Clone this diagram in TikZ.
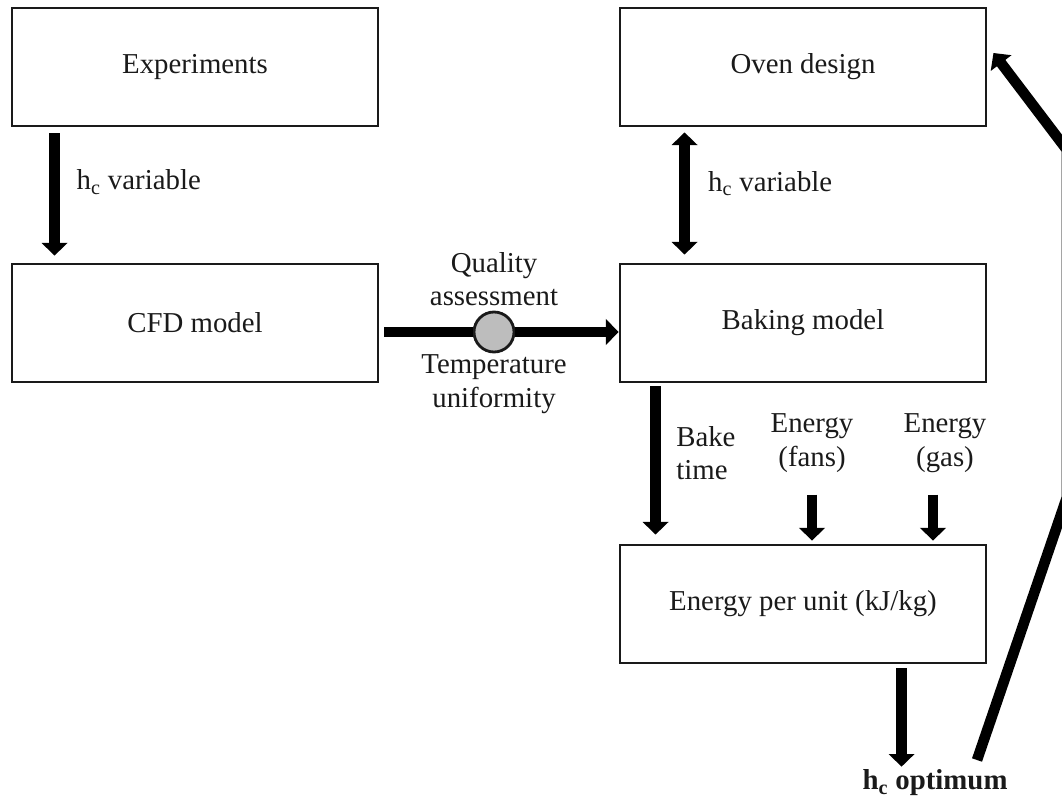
\documentclass[tikz,border=0pt]{standalone}
\usepackage{fontspec}
\setmainfont{Liberation Serif}
\usepackage{tikz}
\usetikzlibrary{arrows.meta,calc,positioning}
\definecolor{inkblack}{HTML}{1A1A1A}
\definecolor{ringgray}{HTML}{BDBDBD}

\begin{document}
\begin{tikzpicture}[x=0.025cm,y=-0.025cm,>={Triangle[length=9pt,width=18pt]},
  font=\fontsize{20.5}{24}\selectfont,
  blk/.style={draw=inkblack,line width=2pt,minimum width=9.15cm,minimum height=2.95cm,text=inkblack},
  lbl/.style={inner sep=0pt,align=center,text=inkblack},
  fat/.style={->,draw=black,line width=7.5pt},
  dot/.style={circle,draw=inkblack,line width=2pt,fill=ringgray,minimum size=1cm,inner sep=0pt}]
\useasboundingbox (0,0) rectangle (1062,800);
\node[blk] (exp) at (195,67) {Experiments};
\node[blk] (cfd) at (195,323) {CFD model};
\node[blk] (oven) at (803,67) {Oven design};
\node[blk] (bake) at (803,323) {Baking model};
\node[blk] (epu) at (803,604) {Energy per unit (kJ/kg)};
\node[dot] (qa) at (494,332) {};
\node[lbl,above=3pt of qa] (qual) {Quality\\assessment};
\node[lbl,below=1pt of qa] (temp) {Temperature\\uniformity};
\node[lbl] (fans) at (812,443) {Energy\\(fans)};
\node[lbl] (gas) at (945,443) {Energy\\(gas)};
\node[lbl,font=\fontsize{20.5}{24}\selectfont\bfseries] (opt) at (935,783) {h\textsubscript{c} optimum};
\coordinate (fansin) at ($(fans.south)+(0,22)$);
\coordinate (gasin) at ($(gas.south)+(-12,22)$);
\coordinate (outp) at ($(epu.south west)+(283,4)$);
\coordinate (r0) at (977,760);
\coordinate (r1) at (1067,497);
\coordinate (r2) at (1067,150);
\draw[fat] ($(exp.south west)+(44,6)$) -- ($(cfd.north west)+(44,-7)$)
  node[lbl,pos=0.4,right=12pt]{h\textsubscript{c} variable};
\draw[fat,<->] ($(oven.south west)+(66,5)$) -- ($(bake.north west)+(66,-8)$)
  node[lbl,pos=0.42,right=13pt]{h\textsubscript{c} variable};
\draw[fat,-,shorten >=3.5pt] (qa) -- (cfd.east |- qa);
\draw[fat] (qa) -- (bake.west |- qa);
\draw[fat] ($(bake.south west)+(37,3)$) -- ($(epu.north west)+(37,-9)$)
  node[lbl,pos=0.45,right=11pt,align=left]{Bake\\time};
\draw[fat] (fansin) -- ($(fansin |- epu.north)+(0,-3)$);
\draw[fat] (gasin) -- ($(gasin |- epu.north)+(0,-3)$);
\draw[fat] (outp) -- ($(outp |- opt.north)+(0,-3)$);
\draw[fat] (r0) -- (r1) -- (r2) -- ($(oven.east)+(6,-14)$);
\end{tikzpicture}
\end{document}
